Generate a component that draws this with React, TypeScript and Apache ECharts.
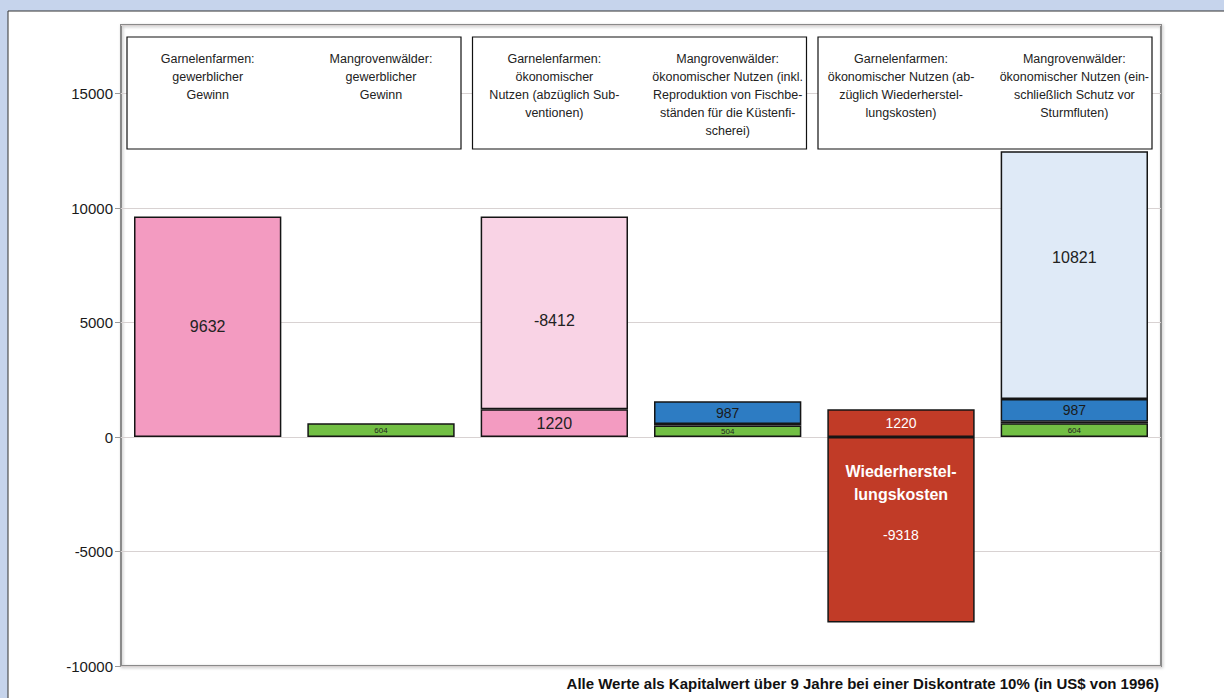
import React, { useEffect, useRef } from "react";
import * as echarts from "echarts";

const categories = [
  "Garnelenfarmen:\ngewerblicher\nGewinn",
  "Mangrovenwälder:\ngewerblicher\nGewinn",
  "Garnelenfarmen:\nökonomischer\nNutzen (abzüglich Sub-\nventionen)",
  "Mangrovenwälder:\nökonomischer Nutzen (inkl.\nReproduktion von Fischbe-\nständen für die Küstenfi-\nscherei)",
  "Garnelenfarmen:\nökonomischer Nutzen (ab-\nzüglich Wiederherstel-\nlungskosten)",
  "Mangrovenwälder:\nökonomischer Nutzen (ein-\nschließlich Schutz vor\nSturmfluten)",
];

const pinkDark = [9632, null, 1220, null, null, null];
const pinkLight = [null, null, 8412, null, null, null];
const pinkLightLabel = "-8412";
const green = [null, 604, null, 504, null, 604];
const darkThin = [null, null, null, 70, null, 70];
const blue = [null, null, null, 987, null, 987];
const lightBlue = [null, null, null, null, null, 10821];
const redPos = [null, null, null, null, 1220, null];
const redNeg = [null, null, null, null, -8098, null];
const redNegTitle = ["Wiederherstel-", "lungskosten"];
const redNegLabel = "-9318";
const footnote =
  "Alle Werte als Kapitalwert über 9 Jahre bei einer Diskontrate 10% (in US$ von 1996)";

const FONT = "'Liberation Sans', Arial, Helvetica, sans-serif";

export default function App() {
  const ref = useRef<HTMLDivElement>(null);

  useEffect(() => {
    if (!ref.current) return;
    const chart = echarts.init(ref.current, undefined, { renderer: "svg" });

    const W = 1224;
    const H = 698;

    const border = { borderColor: "#151515", borderWidth: 1.5 };

    const boxes = [0, 1, 2].map((i) => ({
      type: "rect",
      z: 1,
      shape: { x: 127 + i * 345.5, y: 37, width: 334, height: 112 },
      style: { fill: "#ffffff", stroke: "#111111", lineWidth: 1.2 },
    }));

    const option: any = {
      animation: false,
      backgroundColor: "#c6d4ec",
      textStyle: { fontFamily: FONT },
      graphic: [
        {
          type: "rect",
          z: -10,
          shape: { x: 8, y: 11, width: W, height: H },
          style: { fill: "#ffffff", stroke: "#333333", lineWidth: 1 },
        },
        ...boxes,
        {
          type: "text",
          z: 5,
          x: 1159,
          y: 683,
          style: {
            text: footnote,
            textAlign: "right",
            textVerticalAlign: "middle",
            fontFamily: FONT,
            fontWeight: "bold",
            fontSize: 15,
            fill: "#111111",
          },
        },
      ],
      grid: {
        left: 121,
        right: 63,
        top: 25,
        bottom: 32,
        show: true,
        borderColor: "#8a8a8a",
        borderWidth: 2,
        backgroundColor: "transparent",
        shadowColor: "rgba(0,0,0,0.25)",
        shadowBlur: 3,
        shadowOffsetX: 1,
        shadowOffsetY: 1,
      },
      xAxis: {
        type: "category",
        data: categories,
        position: "top",
        z: 10,
        axisLine: { show: false },
        axisTick: { show: false },
        splitLine: { show: false },
        axisLabel: {
          inside: true,
          interval: 0,
          margin: 25,
          verticalAlign: "top",
          align: "center",
          fontSize: 12.5,
          lineHeight: 18,
          color: "#222222",
          fontFamily: FONT,
        },
      },
      yAxis: {
        type: "value",
        min: -10000,
        max: 18000,
        interval: 5000,
        axisLine: { show: false },
        axisTick: { show: true, length: 6, lineStyle: { color: "#999999" } },
        axisLabel: {
          showMaxLabel: false,
          margin: 8,
          fontSize: 15,
          color: "#1a1a1a",
          fontFamily: FONT,
          formatter: (v: number) => String(v),
        },
        splitLine: { lineStyle: { color: "#d8d2d2", width: 1 } },
      },
      series: [
        {
          name: "pinkDark",
          type: "bar",
          stack: "t",
          barWidth: "85%",
          data: pinkDark,
          itemStyle: { color: "#f39bc1", ...border },
          label: { show: true, position: "inside", fontSize: 16, color: "#222222" },
        },
        {
          name: "pinkLight",
          type: "bar",
          stack: "t",
          data: pinkLight,
          itemStyle: { color: "#f9d3e5", ...border },
          label: {
            show: true,
            position: "inside",
            offset: [0, 8],
            fontSize: 16,
            color: "#222222",
            formatter: () => pinkLightLabel,
          },
        },
        {
          name: "green",
          type: "bar",
          stack: "t",
          data: green,
          itemStyle: { color: "#72bf44", ...border },
          label: { show: true, position: "inside", fontSize: 8, color: "#222222" },
        },
        {
          name: "darkThin",
          type: "bar",
          stack: "t",
          data: darkThin,
          itemStyle: { color: "#26323e", ...border },
          label: { show: false },
        },
        {
          name: "blue",
          type: "bar",
          stack: "t",
          data: blue,
          itemStyle: { color: "#2d7cc3", ...border },
          label: { show: true, position: "inside", fontSize: 14, color: "#1a1a1a" },
        },
        {
          name: "lightBlue",
          type: "bar",
          stack: "t",
          data: lightBlue,
          itemStyle: { color: "#dfeaf7", ...border },
          label: {
            show: true,
            position: "inside",
            offset: [0, -18],
            fontSize: 16,
            color: "#222222",
          },
        },
        {
          name: "redPos",
          type: "bar",
          stack: "t",
          data: redPos,
          itemStyle: { color: "#c13b27", ...border },
          label: { show: true, position: "inside", fontSize: 14, color: "#ffffff" },
        },
        {
          name: "redNeg",
          type: "bar",
          stack: "t",
          data: redNeg,
          itemStyle: { color: "#c13b27", ...border },
          label: {
            show: true,
            position: ["50%", 23],
            align: "center",
            verticalAlign: "top",
            formatter: () =>
              redNegTitle.map((t) => `{b|${t}}`).join("\n") + `\n{n|${redNegLabel}}`,
            rich: {
              b: {
                fontSize: 16,
                fontWeight: "bold",
                color: "#ffffff",
                lineHeight: 23,
                align: "center",
                fontFamily: FONT,
              },
              n: {
                fontSize: 14,
                color: "#ffffff",
                lineHeight: 57,
                align: "center",
                fontFamily: FONT,
              },
            },
          },
        },
      ],
    };

    chart.setOption(option);
    return () => chart.dispose();
  }, []);

  return (
    <div
      ref={ref}
      style={{ position: "fixed", left: 0, top: 0, width: 1224, height: 698 }}
    />
  );
}
